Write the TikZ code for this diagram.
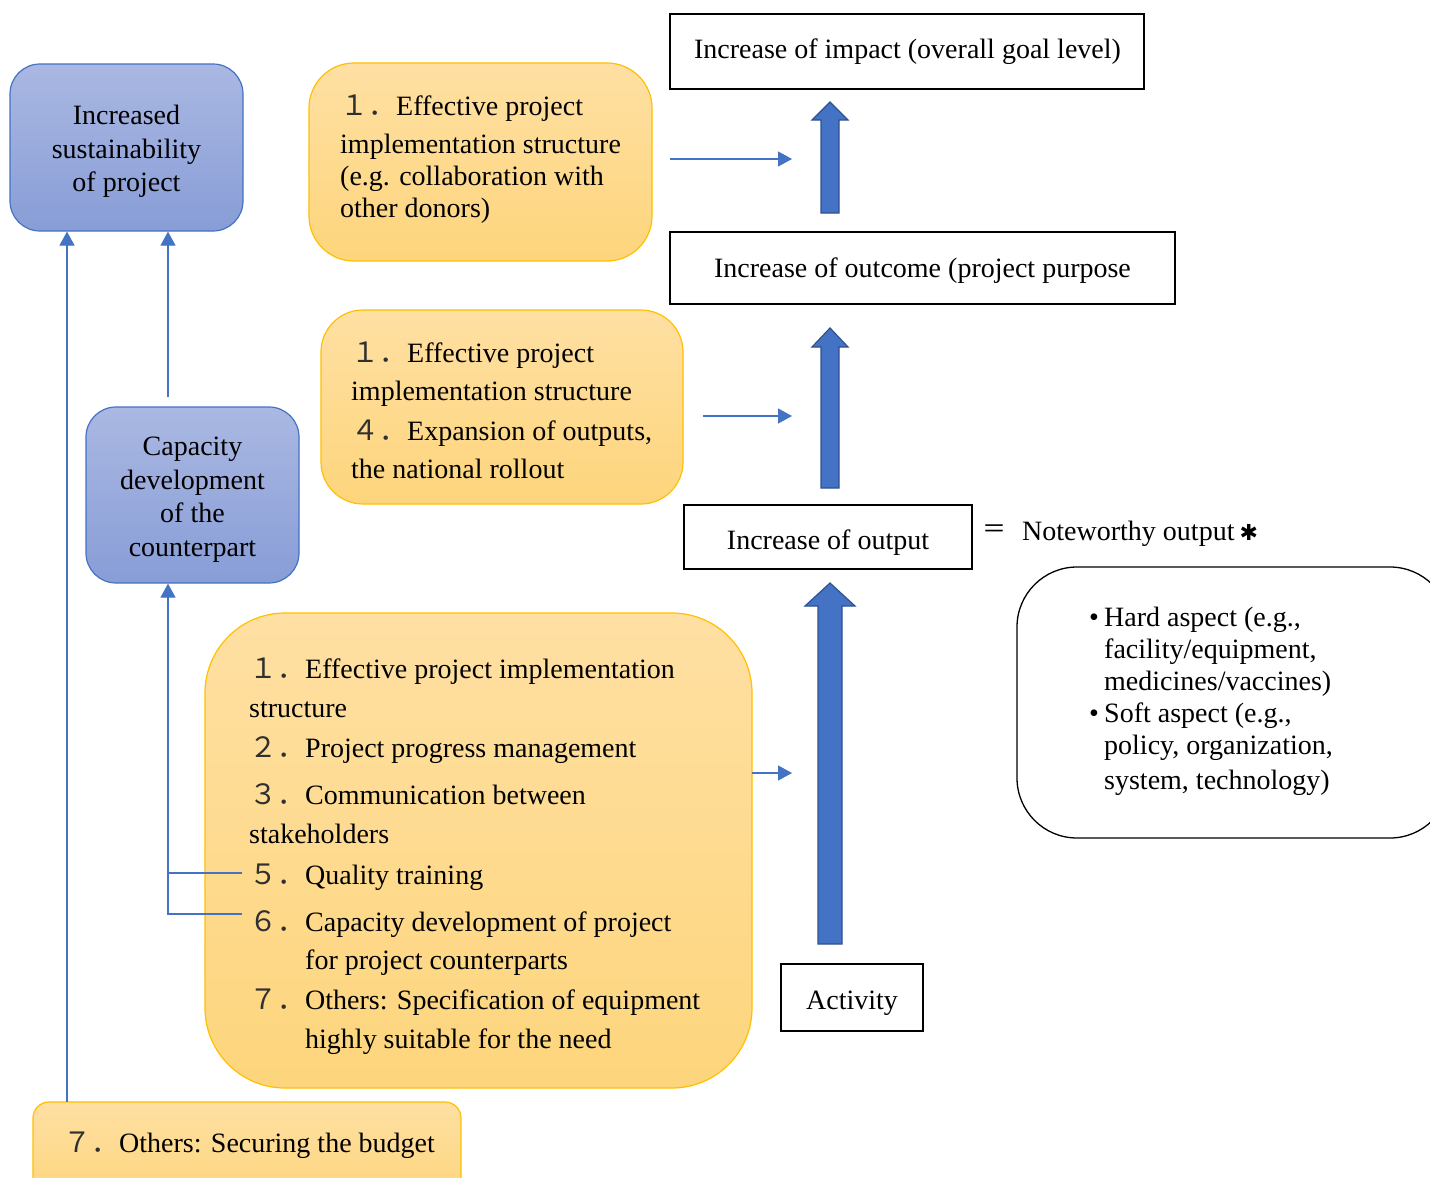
\documentclass[tikz,border=0pt]{standalone}
\usepackage{fontspec}
\setmainfont{Liberation Serif}
\newfontfamily\cjkf{Noto Sans CJK JP}
\newfontfamily\dvs{DejaVu Sans}
\usetikzlibrary{arrows.meta}
\definecolor{lineblue}{HTML}{4472C4}
\definecolor{darkblue}{HTML}{2F528F}
\definecolor{bluetop}{HTML}{AAB8E2}
\definecolor{bluebot}{HTML}{889DD7}
\definecolor{orgtop}{HTML}{FFE0A3}
\definecolor{orgbot}{HTML}{FDD57C}
\definecolor{gold}{HTML}{FFC000}
\definecolor{numgray}{HTML}{303030}
\newcommand{\nm}[1]{{\cjkf\color{numgray}#1．}}
\tikzset{
 bluebox/.style={draw=lineblue, line width=1.2pt, top color=bluetop, bottom color=bluebot, rounded corners=30pt, inner sep=0pt},
 bluetext/.style={inner sep=0pt, align=center, font=\fontsize{28}{33.5}\selectfont},
 orgbox/.style={draw=gold, line width=1.2pt, top color=orgtop, bottom color=orgbot, inner sep=0pt},
 plainbox/.style={draw=black, line width=1.3pt, fill=white, inner sep=0pt},
 txt/.style={inner sep=0pt, align=left, anchor=base west},
 ctxt/.style={inner sep=0pt, anchor=base},
 thinarrow/.style={draw=lineblue, line width=1.2pt, -{Triangle[width=15pt,length=14pt]}},
 thinline/.style={draw=lineblue, line width=1.2pt},
 blockarrow/.style={fill=lineblue, draw=darkblue, line width=1.2pt, line join=miter},
}
\begin{document}
\begin{tikzpicture}[x=1pt,y=-1pt,font=\fontsize{28}{39}\selectfont]
\useasboundingbox (0,0) rectangle (1430,1178);
\clip (0,0) rectangle (1430,1178);
\fill[white] (0,0) rectangle (1430,1178);

% blue boxes
\node[bluebox, minimum width=233pt, minimum height=167pt] (sust) at (126.5,147.5) {};
\node[bluetext] (sustl) at (126.5,151.5) {Increased\\sustainability\\of project};
\node[bluebox, minimum width=213pt, minimum height=176pt] (cap) at (192.5,495) {};
\node[bluetext] (capl) at (192.5,499.5) {Capacity\\development\\of the\\counterpart};

% orange boxes
\node[orgbox, rounded corners=45pt, minimum width=343pt, minimum height=198pt] (ob1) at (480.5,162) {};
\node[txt, font=\fontsize{28}{32}\selectfont] (t1) at (340,217) {\nm{１}Effective project\\[6pt]implementation structure\\(e.g. collaboration with\\other donors)};

\node[orgbox, rounded corners=42pt, minimum width=362pt, minimum height=194pt] (ob2) at (502,407) {};
\node[txt] (t2) at (351,478) {\nm{１}Effective project\\[-1pt]implementation structure\\[1pt]\nm{４}Expansion of outputs,\\[-1pt]the national rollout};

\node[orgbox, rounded corners=80pt, minimum width=547pt, minimum height=475pt] (ob3) at (478.5,850.5) {};
\node[txt] (t3) at (249,1048) {\nm{１}Effective project implementation\\
structure\\[1pt]
\nm{２}Project progress management\\[8pt]
\nm{３}Communication between\\
stakeholders\\[2pt]
\nm{５}Quality training\\[8pt]
\nm{６}Capacity development of project\\[-1pt]
\hspace*{56pt}for project counterparts\\[1pt]
\nm{７}Others: Specification of equipment\\
\hspace*{56pt}highly suitable for the need};

\node[orgbox, rounded corners=16pt, minimum width=428pt, minimum height=100pt] (ob4) at (247,1152) {};
\node[txt] (t4) at (63,1152) {\nm{７}Others: Securing the budget};

% result boxes
\node[plainbox, minimum width=474pt, minimum height=75pt] (impact) at (907,51.5) {};
\node[ctxt] (impactl) at (907.5,58) {Increase of impact (overall goal level)};
\node[plainbox, minimum width=505pt, minimum height=72pt] (outcome) at (922.5,268) {};
\node[ctxt] (outcomel) at (922.5,277) {Increase of outcome (project purpose};
\node[plainbox, minimum width=288pt, minimum height=64pt] (output) at (828,537) {};
\node[ctxt] (outputl) at (828,549) {Increase of output};
\node[plainbox, minimum width=142pt, minimum height=67pt] (activity) at (852,997.5) {};
\node[ctxt] (activityl) at (852,1009) {Activity};

\node[inner sep=0pt, font=\fontsize{24}{28}\selectfont] (eq) at (994,531) {\cjkf ＝};
\node[txt] (note) at (1022,540) {Noteworthy output\hspace{5pt}{\dvs\fontsize{22}{26}\selectfont ✱}};

\node[draw=black, line width=1.3pt, fill=white, rounded corners=60pt, minimum width=433pt, minimum height=271pt] (aspect) at (1233.5,702.5) {};
\node[txt, font=\fontsize{28}{32}\selectfont] (t5) at (1089,789) {\makebox[15pt][l]{•}Hard aspect (e.g.,\\
\hspace*{15pt}facility/equipment,\\
\hspace*{15pt}medicines/vaccines)\\
\makebox[15pt][l]{•}Soft aspect (e.g.,\\
\hspace*{15pt}policy, organization,\\[3pt]
\hspace*{15pt}system, technology)};

% block arrows
\draw[blockarrow] (821,213) -- (821,120) -- (812,120) -- (830,102) -- (848,120) -- (839,120) -- (839,213) -- cycle;
\draw[blockarrow] (821,488) -- (821,347) -- (812,347) -- (830,328) -- (848,347) -- (839,347) -- (839,488) -- cycle;
\draw[blockarrow] (818,944) -- (818,606) -- (805,606) -- (830,583) -- (855,606) -- (842,606) -- (842,944) -- cycle;

% thin arrows to the right
\coordinate (a1s) at (670,159);
\coordinate (a1e) at (792,159);
\draw[thinarrow] (a1s) -- (a1e);
\coordinate (a2s) at (703,416);
\coordinate (a2e) at (792,416);
\draw[thinarrow] (a2s) -- (a2e);
\coordinate (a3s) at (752,773);
\coordinate (a3e) at (792,773);
\draw[thinarrow] (a3s) -- (a3e);

% left connectors
\coordinate (c1) at (168,397);
\draw[thinarrow] (c1) -- (c1 |- sust.south);
\coordinate (c2) at (67,1102);
\draw[thinarrow] (c2) -- (c2 |- sust.south);
\coordinate (q5) at (242,873);
\coordinate (q6) at (242,914);
\coordinate (k5) at (168,873);
\coordinate (k6) at (168,914);
\draw[thinline] (q5) -- (k5);
\draw[thinarrow] (q6) -- (k6) -- (k6 |- cap.south);
\end{tikzpicture}
\end{document}
